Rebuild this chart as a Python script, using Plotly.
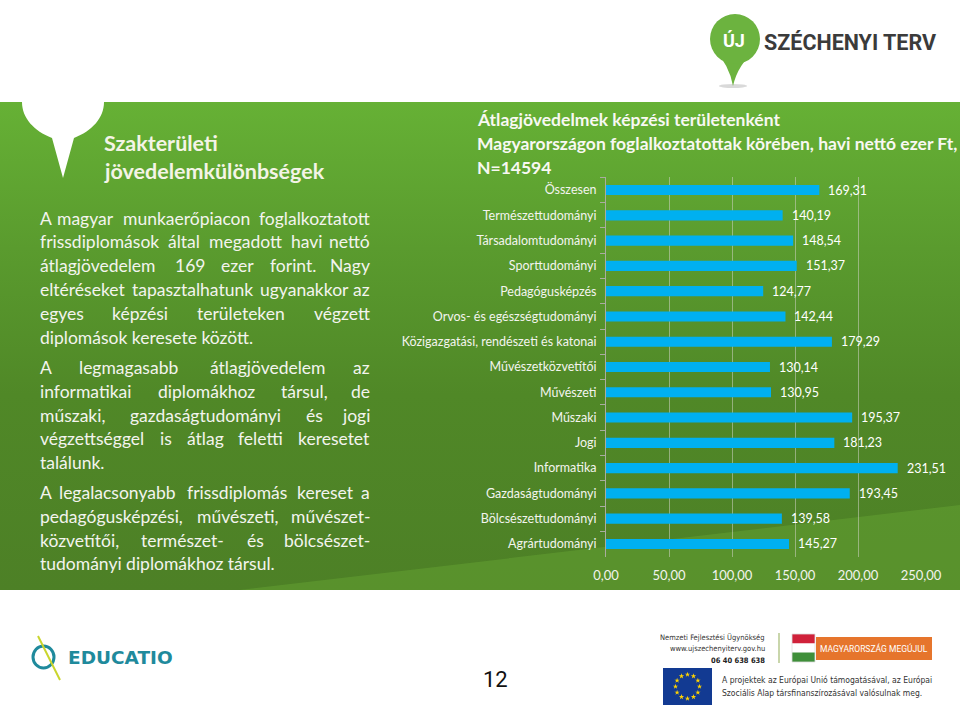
import math
import plotly.graph_objects as go

# ---------------- data ----------------
categories = [
    "Összesen", "Természettudományi", "Társadalomtudományi", "Sporttudományi",
    "Pedagógusképzés", "Orvos- és egészségtudományi",
    "Közigazgatási, rendészeti és katonai", "Művészetközvetítői", "Művészeti",
    "Műszaki", "Jogi", "Informatika", "Gazdaságtudományi",
    "Bölcsészettudományi", "Agrártudományi",
]
values = [169.31, 140.19, 148.54, 151.37, 124.77, 142.44, 179.29, 130.14,
          130.95, 195.37, 181.23, 231.51, 193.45, 139.58, 145.27]
x_tick_values = [0, 50, 100, 150, 200, 250]

chart_title_lines = [
    "Átlagjövedelmek képzési területenként",
    "Magyarországon foglalkoztatottak körében, havi nettó ezer Ft,",
    "N=14594",
]
side_title_lines = ["Szakterületi", "jövedelemkülönbségek"]
paragraph_1 = [
    "A magyar munkaerőpiacon foglalkoztatott",
    "frissdiplomások által megadott havi nettó",
    "átlagjövedelem 169 ezer forint. Nagy",
    "eltéréseket tapasztalhatunk ugyanakkor az",
    "egyes képzési területeken végzett",
    "diplomások keresete között.",
]
paragraph_2 = [
    "A legmagasabb átlagjövedelem az",
    "informatikai diplomákhoz társul, de",
    "műszaki, gazdaságtudományi és jogi",
    "végzettséggel is átlag feletti keresetet",
    "találunk.",
]
paragraph_3 = [
    "A legalacsonyabb frissdiplomás kereset a",
    "pedagógusképzési, művészeti, művészet-",
    "közvetítői, természet- és bölcsészet-",
    "tudományi diplomákhoz társul.",
]

# ---------------- styles ----------------
FONT = "Lato, 'Open Sans', sans-serif"
NARROW = "'Liberation Sans Narrow', 'DejaVu Sans Condensed', 'Arial Narrow', Roboto, sans-serif"
BAR_COLOR = "#00B0F0"
TEXT_LIGHT = "#f3f4ee"

fig = go.Figure()

# ---------- background (pixel-coordinate helper axes x / y) ----------
fig.add_trace(go.Scatter(
    x=[0, 960, 960, 0, 0], y=[102, 102, 590, 590, 102],
    mode="lines", line=dict(width=0), fill="toself",
    fillgradient=dict(type="vertical", start=102, stop=590,
                      colorscale=[[0, "#66b135"], [0.3, "#5a9b2e"],
                                  [0.6, "#508827"], [1, "#4d8026"]]),
    hoverinfo="skip", showlegend=False, xaxis="x", yaxis="y"))
# lighter diagonal band at the bottom
fig.add_trace(go.Scatter(
    x=[240, 960, 960, 240], y=[590, 505, 590, 590],
    mode="lines", line=dict(width=0), fill="toself",
    fillcolor="rgba(112,178,58,0.35)",
    hoverinfo="skip", showlegend=False, xaxis="x", yaxis="y"))

shapes = []
# EU flag (below the star markers)
shapes.append(dict(type="rect", xref="x", yref="y", x0=663, x1=712, y0=668, y1=705,
                   fillcolor="#123a92", line=dict(width=0), layer="below"))
# white balloon at top left
shapes.append(dict(type="path", xref="x", yref="y", layer="above",
                   path="M 22 101 L 22 102 C 22 118, 34 131, 52 138 L 63 178 "
                        "L 74 138 C 92 131, 104 118, 104 102 L 104 101 Z",
                   fillcolor="white", line=dict(width=0)))
# Széchenyi pin
shapes.append(dict(type="circle", xref="x", yref="y", x0=719, x1=747, y0=84, y1=88,
                   fillcolor="rgba(0,0,0,0.15)", line=dict(width=0)))
shapes.append(dict(type="path", xref="x", yref="y",
                   path="M 714 50 Q 729 64 733 86 Q 738 64 756 50 Z",
                   fillcolor="#6cb33f", line=dict(width=0)))
shapes.append(dict(type="circle", xref="x", yref="y", x0=710, x1=760, y0=14, y1=64,
                   fillcolor="#6cb33f", line=dict(width=0)))
# Educatio icon
shapes.append(dict(type="circle", xref="x", yref="y", x0=33, x1=54, y0=646, y1=668,
                   fillcolor="rgba(0,0,0,0)", line=dict(color="#1f8a9c", width=3)))
shapes.append(dict(type="line", xref="x", yref="y", x0=38, y0=636, x1=60, y1=680,
                   line=dict(color="#c9d52c", width=2)))
# separator line, flag, orange box
shapes.append(dict(type="line", xref="x", yref="y", x0=779, y0=633, x1=779, y1=663,
                   line=dict(color="#b7c98f", width=1.5)))
for y0, y1, col in [(634, 643.5, "#d0213a"), (643.5, 652.5, "#ffffff"), (652.5, 662, "#3f8f3a")]:
    shapes.append(dict(type="rect", xref="x", yref="y", x0=792, x1=815, y0=y0, y1=y1,
                       fillcolor=col, line=dict(width=0)))
shapes.append(dict(type="rect", xref="x", yref="y", x0=792, x1=815, y0=634, y1=662,
                   fillcolor="rgba(0,0,0,0)", line=dict(color="#dddddd", width=0.8)))
shapes.append(dict(type="rect", xref="x", yref="y", x0=816, x1=932, y0=637, y1=660,
                   fillcolor="#e6752c", line=dict(width=0)))

star_x = [687.5 + 12 * math.cos(2 * math.pi * k / 12) for k in range(12)]
star_y = [686.5 + 12 * math.sin(2 * math.pi * k / 12) for k in range(12)]
fig.add_trace(go.Scatter(x=star_x, y=star_y, mode="markers",
                         marker=dict(symbol="star", size=4, color="#ffd400"),
                         hoverinfo="skip", showlegend=False, xaxis="x", yaxis="y"))

# ---------------- bar chart ----------------
fig.add_trace(go.Bar(
    x=values, y=categories, orientation="h", width=0.4,
    marker=dict(color=BAR_COLOR, line=dict(width=0)),
    hoverinfo="skip", showlegend=False, xaxis="x2", yaxis="y2"))

annotations = []
for cat, val in zip(categories, values):
    annotations.append(dict(
        x=val, y=cat, xref="x2", yref="y2", xanchor="left", yanchor="middle",
        xshift=7, showarrow=False, text=f"{val:.2f}".replace(".", ","),
        font=dict(family=FONT, size=12.5, color="#ffffff")))

# chart title
for i, line in enumerate(chart_title_lines):
    annotations.append(dict(
        x=475, y=119 + 24 * i, xref="x", yref="y", xanchor="left", yanchor="middle",
        showarrow=False, text=f"<b>{line}</b>",
        font=dict(family=FONT, size=17.5, color="#f8f8f2")))

# side title
for i, line in enumerate(side_title_lines):
    annotations.append(dict(
        x=102, y=143 + 28 * i, xref="x", yref="y", xanchor="left", yanchor="middle",
        showarrow=False, text=f"<b>{line}</b>",
        font=dict(family=FONT, size=21.5, color="#f4f4e6")))

# ---------- justified body text ----------
W_TABLE = {}
for ch in "il.,;:!'íj|": W_TABLE[ch] = 0.24
for ch in "frtI": W_TABLE[ch] = 0.36
for ch in "sz": W_TABLE[ch] = 0.45
for ch in "c": W_TABLE[ch] = 0.47
W_TABLE["m"] = 0.86
W_TABLE["w"] = 0.77
W_TABLE["-"] = 0.35
W_TABLE[" "] = 0.2
ACCENT = str.maketrans("áéíóöőúüűÁÉÍÓÖŐÚÜŰ", "aeiooouuuAEIOOOUUU")


def text_width(s, size):
    total = 0.0
    for ch in s.translate(ACCENT):
        if ch in W_TABLE:
            total += W_TABLE[ch]
        elif ch.isdigit():
            total += 0.6
        elif ch.isupper():
            total += 0.68
        else:
            total += 0.55
    return total * size


BODY_SIZE = 17.5
LEFT, RIGHT = 38, 372


def add_paragraph(lines, y_start, step=23.8):
    for i, line in enumerate(lines):
        y = y_start + step * i
        words = line.split(" ")
        last = i == len(lines) - 1
        if last or len(words) == 1:
            annotations.append(dict(
                x=LEFT, y=y, xref="x", yref="y", xanchor="left", yanchor="middle",
                showarrow=False, text=line,
                font=dict(family=FONT, size=BODY_SIZE, color=TEXT_LIGHT)))
            continue
        widths = [text_width(w, BODY_SIZE) for w in words]
        gap = (RIGHT - LEFT - sum(widths)) / (len(words) - 1)
        pos = LEFT
        for j, (w, wd) in enumerate(zip(words, widths)):
            if j == 0:
                xa, xx = "left", LEFT
            elif j == len(words) - 1:
                xa, xx = "right", RIGHT
            else:
                xa, xx = "center", pos + wd / 2
            annotations.append(dict(
                x=xx, y=y, xref="x", yref="y", xanchor=xa, yanchor="middle",
                showarrow=False, text=w,
                font=dict(family=FONT, size=BODY_SIZE, color=TEXT_LIGHT)))
            pos += wd + gap


add_paragraph(paragraph_1, 218)
add_paragraph(paragraph_2, 367.5)
add_paragraph(paragraph_3, 492.5)

# ---------- logos text ----------
annotations += [
    dict(x=734, y=40, xref="x", yref="y", showarrow=False, text="<b>ÚJ</b>",
         font=dict(family="Roboto, sans-serif", size=18, color="white")),
    dict(x=762, y=42, xref="x", yref="y", xanchor="left", showarrow=False,
         text="<b>SZÉCHENYI TERV</b>",
         font=dict(family="Roboto, sans-serif", size=21.5, color="#3b3b3b")),
    dict(x=66, y=657, xref="x", yref="y", xanchor="left", showarrow=False,
         text="<b>EDUCATIO</b>",
         font=dict(family="'DejaVu Sans', sans-serif", size=18.5, color="#1f8a9c")),
    dict(x=495, y=679, xref="x", yref="y", showarrow=False, text="12",
         font=dict(family="Roboto, sans-serif", size=22, color="#111111")),
    dict(x=767, y=637, xref="x", yref="y", xanchor="right", showarrow=False,
         text="Nemzeti Fejlesztési Ügynökség",
         font=dict(family=NARROW, size=7.5, color="#333333")),
    dict(x=767, y=648.5, xref="x", yref="y", xanchor="right", showarrow=False,
         text="www.ujszechenyiterv.gov.hu",
         font=dict(family=NARROW, size=7.5, color="#333333")),
    dict(x=767, y=660, xref="x", yref="y", xanchor="right", showarrow=False,
         text="<b>06 40 638 638</b>",
         font=dict(family=NARROW, size=7.5, color="#222222")),
    dict(x=874, y=648.5, xref="x", yref="y", showarrow=False,
         text="MAGYARORSZÁG MEGÚJUL",
         font=dict(family="Roboto, sans-serif", size=8.5, color="white")),
    dict(x=720, y=680, xref="x", yref="y", xanchor="left", showarrow=False,
         text="A projektek az Európai Unió támogatásával, az Európai",
         font=dict(family=NARROW, size=8.5, color="#333333")),
    dict(x=720, y=693, xref="x", yref="y", xanchor="left", showarrow=False,
         text="Szociális Alap társfinanszírozásával valósulnak meg.",
         font=dict(family=NARROW, size=8.5, color="#333333")),
]

plot_top, plot_bottom = 177.4, 556.6
fig.update_layout(
    template="none",
    width=960, height=720,
    margin=dict(l=0, r=0, t=0, b=0, pad=0, autoexpand=False),
    paper_bgcolor="white", plot_bgcolor="rgba(0,0,0,0)",
    separators=", ",
    showlegend=False,
    shapes=shapes, annotations=annotations,
    xaxis=dict(domain=[0, 1], range=[0, 960], visible=False, fixedrange=True,
               automargin=False),
    yaxis=dict(domain=[0, 1], range=[720, 0], visible=False, fixedrange=True,
               automargin=False),
    xaxis2=dict(domain=[606 / 960, 921 / 960], range=[0, 250], anchor="y2",
                tickvals=x_tick_values, tickformat=".2f", automargin=False,
                showgrid=True, gridcolor="rgba(205,210,195,0.55)", gridwidth=1,
                zeroline=False, showline=False, ticks="",
                ticklabelstandoff=9,
                tickfont=dict(family=FONT, size=13, color=TEXT_LIGHT)),
    yaxis2=dict(domain=[(720 - plot_bottom) / 720, (720 - plot_top) / 720],
                anchor="x2", type="category", range=[14.5, -0.5], automargin=False,
                showgrid=False, zeroline=False,
                showline=True, linecolor="#a9ad9f", linewidth=1,
                ticks="outside", tickson="boundaries", ticklen=5,
                tickcolor="#a9ad9f", ticklabelstandoff=6,
                tickfont=dict(family=FONT, size=12.5, color=TEXT_LIGHT)),
    bargap=0.6,
)

fig.write_html(
    "out.html",
    config={"displayModeBar": False, "staticPlot": True},
    post_script="document.body.style.margin='0';document.body.style.overflow='hidden';",
)
